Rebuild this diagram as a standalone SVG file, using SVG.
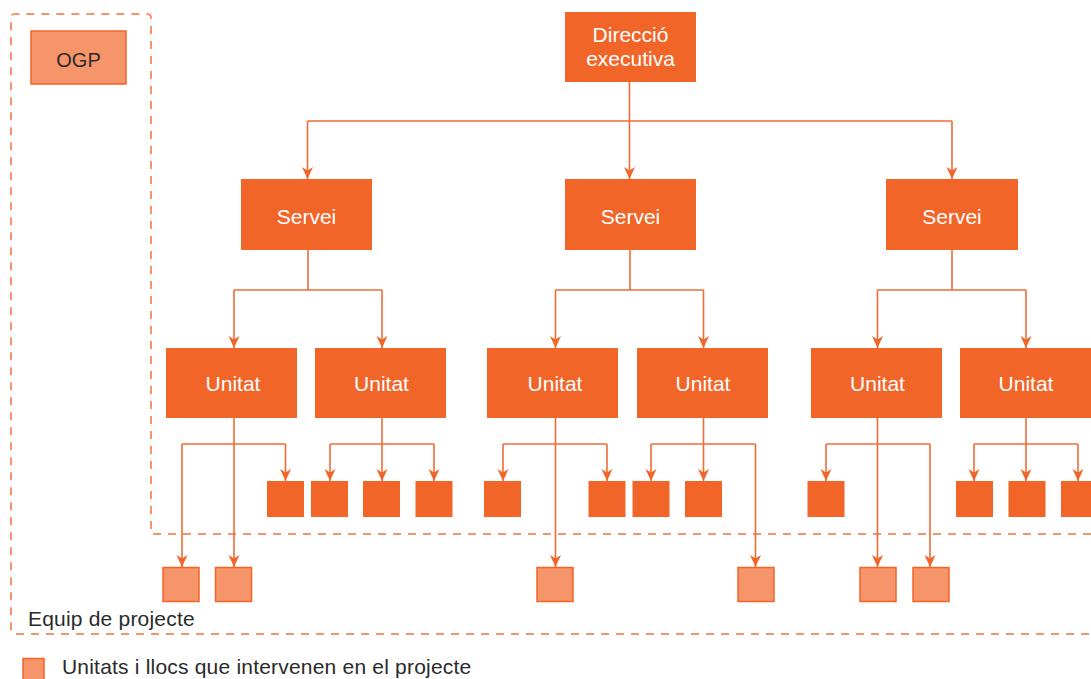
<svg xmlns="http://www.w3.org/2000/svg" width="1091" height="679" viewBox="0 0 1091 679">
<style>
.box{fill:#F26529;}
.lt{fill:#F6946A;stroke:#F26529;stroke-width:1.5;}
.bt{font-family:"Liberation Sans",Arial,sans-serif;font-size:21px;fill:#ffffff;text-anchor:middle;}
.dt{font-family:"Liberation Sans",Arial,sans-serif;font-size:21px;letter-spacing:0.2px;fill:#2a2a2a;}
.ln{fill:none;stroke:#F26B35;stroke-width:1.6;}
.ar{fill:none;stroke:#F26B35;stroke-width:1.6;marker-end:url(#ah);}
.dash{fill:none;stroke:#F7956A;stroke-width:2;stroke-dasharray:8 7;}
</style>
<defs>
<marker id="ah" viewBox="0 0 12 12" refX="12" refY="6" markerWidth="12" markerHeight="12" markerUnits="userSpaceOnUse" orient="auto">
<path d="M0,0.5 L12,6 L0,11.5 L3.5,6 z" fill="#F26529"/>
</marker>
</defs>
<rect width="1091" height="679" fill="#ffffff"/>

<g id="boundaries">
<path class="dash" d="M1091,534 L151,534 L151,18 Q151,14 147,14 L15,14 Q11,14 11,18 L11,630 Q11,634 15,634 L1091,634"/>
<text class="dt" x="28" y="626">Equip de projecte</text>
</g>

<g id="connectors">
<path class="ln" d="M629.5,82 V121 M307.5,121 H952"/>
<path class="ar" d="M629.5,121 V179"/>
<path class="ar" d="M307.5,121 V179"/>
<path class="ar" d="M952,121 V179"/>

<path class="ln" d="M308,250 V290 M234,290 H382"/>
<path class="ar" d="M234,290 V348"/>
<path class="ar" d="M382,290 V348"/>
<path class="ln" d="M630,250 V290 M555.5,290 H703.5"/>
<path class="ar" d="M555.5,290 V348"/>
<path class="ar" d="M703.5,290 V348"/>
<path class="ln" d="M952,250 V290 M877.5,290 H1026"/>
<path class="ar" d="M877.5,290 V348"/>
<path class="ar" d="M1026,290 V348"/>

<path class="ln" d="M182,444 H285.5"/>
<path class="ar" d="M234,418 V567"/>
<path class="ar" d="M182,444 V567"/>
<path class="ar" d="M285.5,444 V481"/>

<path class="ln" d="M330,444 H434"/>
<path class="ar" d="M382,418 V481"/>
<path class="ar" d="M330,444 V481"/>
<path class="ar" d="M434,444 V481"/>

<path class="ln" d="M503,444 H607"/>
<path class="ar" d="M555.5,418 V567"/>
<path class="ar" d="M503,444 V481"/>
<path class="ar" d="M607,444 V481"/>

<path class="ln" d="M651,444 H755.5"/>
<path class="ar" d="M703.5,418 V481"/>
<path class="ar" d="M651,444 V481"/>
<path class="ar" d="M755.5,444 V567"/>

<path class="ln" d="M826,444 H930"/>
<path class="ar" d="M877.5,418 V567"/>
<path class="ar" d="M826,444 V481"/>
<path class="ar" d="M930,444 V567"/>

<path class="ln" d="M974,444 H1078"/>
<path class="ar" d="M1026,418 V481"/>
<path class="ar" d="M974,444 V481"/>
<path class="ar" d="M1078,444 V481"/>
</g>

<g id="ogp">
<rect class="lt" x="31" y="31" width="95" height="53"/>
<text class="dt" x="78.5" y="66.5" text-anchor="middle" style="font-size:20px;letter-spacing:0">OGP</text>
</g>

<g id="direccio">
<rect class="box" x="565" y="12" width="131" height="70"/>
<text class="bt" x="630.5" y="42">Direcció</text>
<text class="bt" x="630.5" y="66">executiva</text>
</g>

<g id="servei1"><rect class="box" x="241" y="179" width="131" height="71"/><text class="bt" x="306.5" y="224">Servei</text></g>
<g id="servei2"><rect class="box" x="565" y="179" width="131" height="71"/><text class="bt" x="630.5" y="224">Servei</text></g>
<g id="servei3"><rect class="box" x="886" y="179" width="132" height="71"/><text class="bt" x="952" y="224">Servei</text></g>

<g id="unitat1"><rect class="box" x="166" y="348" width="131" height="70"/><text class="bt" x="233" y="391">Unitat</text></g>
<g id="unitat2"><rect class="box" x="315" y="348" width="131" height="70"/><text class="bt" x="381.5" y="391">Unitat</text></g>
<g id="unitat3"><rect class="box" x="487" y="348" width="131" height="70"/><text class="bt" x="555" y="391">Unitat</text></g>
<g id="unitat4"><rect class="box" x="637" y="348" width="131" height="70"/><text class="bt" x="703" y="391">Unitat</text></g>
<g id="unitat5"><rect class="box" x="811" y="348" width="131" height="70"/><text class="bt" x="877.5" y="391">Unitat</text></g>
<g id="unitat6"><rect class="box" x="960" y="348" width="131" height="70"/><text class="bt" x="1026" y="391">Unitat</text></g>

<g id="lloc-d1"><rect class="box" x="267" y="481" width="37" height="36"/></g>
<g id="lloc-d2"><rect class="box" x="311" y="481" width="37" height="36"/></g>
<g id="lloc-d3"><rect class="box" x="363" y="481" width="37" height="36"/></g>
<g id="lloc-d4"><rect class="box" x="415.5" y="481" width="37" height="36"/></g>
<g id="lloc-d5"><rect class="box" x="484" y="481" width="37" height="36"/></g>
<g id="lloc-d6"><rect class="box" x="588.5" y="481" width="37" height="36"/></g>
<g id="lloc-d7"><rect class="box" x="632.5" y="481" width="37" height="36"/></g>
<g id="lloc-d8"><rect class="box" x="685" y="481" width="37" height="36"/></g>
<g id="lloc-d9"><rect class="box" x="807.5" y="481" width="37" height="36"/></g>
<g id="lloc-d10"><rect class="box" x="956" y="481" width="37" height="36"/></g>
<g id="lloc-d11"><rect class="box" x="1008.5" y="481" width="37" height="36"/></g>
<g id="lloc-d12"><rect class="box" x="1061" y="481" width="37" height="36"/></g>

<g id="lloc-p1"><rect class="lt" x="163" y="567.5" width="36" height="34"/></g>
<g id="lloc-p2"><rect class="lt" x="215.5" y="567.5" width="36" height="34"/></g>
<g id="lloc-p3"><rect class="lt" x="537" y="567.5" width="36" height="34"/></g>
<g id="lloc-p4"><rect class="lt" x="738" y="567.5" width="36" height="34"/></g>
<g id="lloc-p5"><rect class="lt" x="860" y="567.5" width="36" height="34"/></g>
<g id="lloc-p6"><rect class="lt" x="913" y="567.5" width="36" height="34"/></g>

<g id="legend">
<rect class="lt" x="23" y="658.5" width="21" height="22"/>
<text class="dt" x="62" y="674">Unitats i llocs que intervenen en el projecte</text>
</g>
</svg>
